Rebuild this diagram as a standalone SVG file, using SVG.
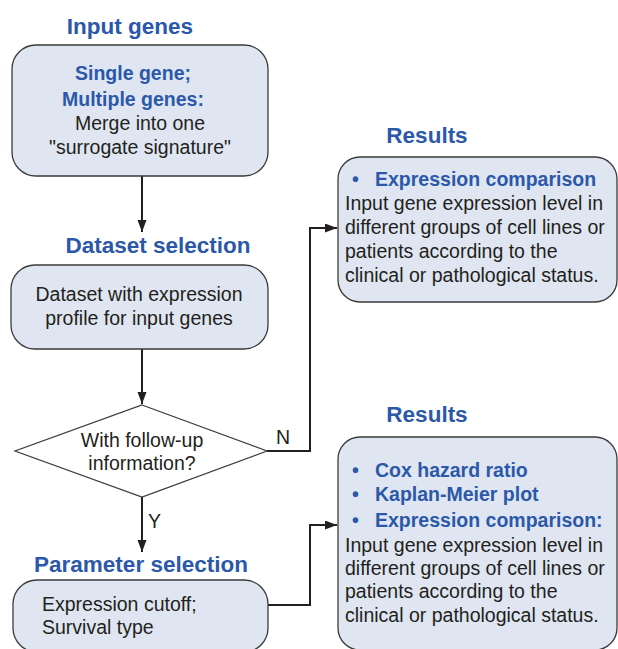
<svg xmlns="http://www.w3.org/2000/svg" width="618" height="649" viewBox="0 0 618 649">
<defs>
<style>
.box{fill:#dfe6f1;stroke:#3a3a3a;stroke-width:1.3}
.title{font-family:"Liberation Sans",Arial,sans-serif;font-weight:bold;font-size:22.5px;fill:#2b58a8}
.b{font-family:"Liberation Sans",Arial,sans-serif;font-weight:bold;font-size:19.5px;fill:#2b58a8}
.t{font-family:"Liberation Sans",Arial,sans-serif;font-size:19.5px;fill:#231f20}
.c{text-anchor:middle}
.line{fill:none;stroke:#231f20;stroke-width:2}
</style>
<marker id="ah" viewBox="0 0 10 10" refX="10" refY="5" markerWidth="10" markerHeight="10" markerUnits="userSpaceOnUse" orient="auto">
<path d="M0,0 L10,5 L0,10 Z" fill="#231f20"/>
</marker>
<marker id="ahv" viewBox="0 0 12 16" refX="16" refY="6" markerWidth="16" markerHeight="12" markerUnits="userSpaceOnUse" orient="auto">
<path d="M0,0 L16,6 L0,12 Z" fill="#231f20"/>
</marker>
</defs>
<rect width="618" height="649" fill="#ffffff"/>
<g id="connectors">
<path class="line" d="M142,176 V232" marker-end="url(#ahv)"/>
<path class="line" d="M142,349 V404" marker-end="url(#ahv)"/>
<path class="line" d="M142,497 V552" marker-end="url(#ahv)"/>
<path class="line" d="M267,451 H310 V228 H337" marker-end="url(#ahv)"/>
<path class="line" d="M268,605 H310 V525 H337" marker-end="url(#ahv)"/>
<text class="t" x="276" y="444">N</text>
<text class="t" x="148" y="528">Y</text>
</g>
<g id="input-genes">
<text class="title c" x="130" y="34">Input genes</text>
<rect class="box" x="12" y="45" width="256" height="131" rx="24"/>
<text class="b c" x="133" y="80">Single gene;</text>
<text class="b c" x="133" y="106">Multiple genes:</text>
<text class="t c" x="140" y="130">Merge into one</text>
<text class="t c" x="140" y="154">"surrogate signature"</text>
</g>
<g id="dataset-selection">
<text class="title c" x="158" y="253">Dataset selection</text>
<rect class="box" x="11" y="265" width="257" height="84" rx="24"/>
<text class="t c" x="139" y="301">Dataset with expression</text>
<text class="t c" x="139" y="325">profile for input genes</text>
</g>
<g id="follow-up">
<polygon points="142,405 267,451 142,497 15,451" fill="#ffffff" stroke="#3a3a3a" stroke-width="1.2"/>
<text class="t c" x="142" y="447">With follow-up</text>
<text class="t c" x="142" y="470">information?</text>
</g>
<g id="parameter-selection">
<text class="title c" x="141" y="572">Parameter selection</text>
<rect class="box" x="13" y="580" width="255" height="72" rx="24"/>
<text class="t" x="42" y="611">Expression cutoff;</text>
<text class="t" x="42" y="634">Survival type</text>
</g>
<g id="results-1">
<text class="title c" x="427" y="143">Results</text>
<rect class="box" x="338" y="157" width="279" height="145" rx="22"/>
<text class="b" x="352" y="186">•</text>
<text class="b" x="375" y="186">Expression comparison</text>
<text class="t" x="345" y="210">Input gene expression level in</text>
<text class="t" x="345" y="234">different groups of cell lines or</text>
<text class="t" x="345" y="258">patients according to the</text>
<text class="t" x="345" y="282">clinical or pathological status.</text>
</g>
<g id="results-2">
<text class="title c" x="427" y="422">Results</text>
<rect class="box" x="338" y="437" width="279" height="213" rx="22"/>
<text class="b" x="352" y="477">•</text>
<text class="b" x="375" y="477">Cox hazard ratio</text>
<text class="b" x="352" y="501">•</text>
<text class="b" x="375" y="501">Kaplan-Meier plot</text>
<text class="b" x="352" y="527">•</text>
<text class="b" x="375" y="527">Expression comparison:</text>
<text class="t" x="345" y="552">Input gene expression level in</text>
<text class="t" x="345" y="575">different groups of cell lines or</text>
<text class="t" x="345" y="598">patients according to the</text>
<text class="t" x="345" y="622">clinical or pathological status.</text>
</g>
</svg>
